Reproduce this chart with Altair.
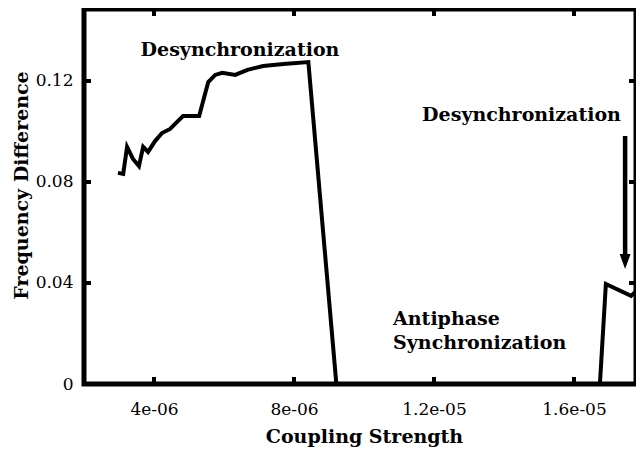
import altair as alt
import pandas as pd

# Curve
coupling = [2.97e-6, 3.12e-6, 3.23e-6, 3.40e-6, 3.57e-6, 3.69e-6, 3.83e-6, 4.03e-6,
            4.23e-6, 4.46e-6, 4.66e-6, 4.83e-6, 5.09e-6, 5.29e-6, 5.55e-6, 5.75e-6,
            5.95e-6, 6.32e-6, 6.67e-6, 7.12e-6, 7.70e-6, 8.41e-6, 9.21e-6, 1.674e-5,
            1.691e-5, 1.763e-5, 1.80e-5]
freq_diff = [0.0836, 0.0832, 0.0939, 0.0891, 0.0863, 0.0939, 0.0919, 0.0962,
             0.0994, 0.1010, 0.1038, 0.1061, 0.1061, 0.1061, 0.1196, 0.1224,
             0.1232, 0.1224, 0.1244, 0.1259, 0.1267, 0.1275, 0.0, 0.0,
             0.0396, 0.0349, 0.0398]

x_ticks = [4e-6, 8e-6, 1.2e-5, 1.6e-5]
y_ticks = [0, 0.04, 0.08, 0.12]

ann_text = ["Desynchronization", "Desynchronization", "Antiphase", "Synchronization"]
ann_x = [6.457e-6, 1.45e-5, 1.083e-5, 1.083e-5]
ann_y = [0.1300, 0.1042, 0.02337, 0.01386]
ann_align = ["center", "center", "left", "left"]

arrow_x = [1.746e-5]
arrow_top = [0.0982]
arrow_tip = [0.0485]

W, H = 552, 375
XDOM = [2e-6, 1.7771e-5]
YDOM = [0, 0.1485]

curve = pd.DataFrame({"x": coupling, "y": freq_diff})
ann = pd.DataFrame({"t": ann_text, "x": ann_x, "y": ann_y, "a": ann_align})
xt = pd.DataFrame({"v": x_ticks})
yt = pd.DataFrame({"v": y_ticks})
arr = pd.DataFrame({"x": arrow_x, "y": arrow_top, "y2": arrow_tip})

xscale = alt.Scale(domain=XDOM, nice=False, zero=False)
yscale = alt.Scale(domain=YDOM, nice=False, zero=False)

xaxis = alt.Axis(values=x_ticks, ticks=False, domain=False, grid=False,
                 labelExpr="replace(format(datum.value, '~e'), 'e-', 'e-0')",
                 labelPadding=17, title="Coupling Strength",
                 titleX=280, titleY=58, titleBaseline="alphabetic", titleAlign="center")
yaxis = alt.Axis(values=y_ticks, ticks=False, domain=False, grid=False,
                 format=".2~f", labelPadding=11, title="Frequency Difference",
                 titleAngle=270, titleX=-57, titleY=176, titleBaseline="alphabetic",
                 titleAlign="center")

line = alt.Chart(curve).mark_line(color="black", strokeWidth=4, clip=True).encode(
    x=alt.X("x:Q", scale=xscale, axis=xaxis),
    y=alt.Y("y:Q", scale=yscale, axis=yaxis),
)

tb = alt.Chart(xt).mark_rule(color="black", strokeWidth=4).encode(
    x=alt.X("v:Q", scale=xscale), y=alt.value(H), y2=alt.value(H - 7))
tt = alt.Chart(xt).mark_rule(color="black", strokeWidth=4).encode(
    x=alt.X("v:Q", scale=xscale), y=alt.value(0), y2=alt.value(7))
tl = alt.Chart(yt).mark_rule(color="black", strokeWidth=4).encode(
    y=alt.Y("v:Q", scale=yscale), x=alt.value(0), x2=alt.value(7))
tr = alt.Chart(yt).mark_rule(color="black", strokeWidth=4).encode(
    y=alt.Y("v:Q", scale=yscale), x=alt.value(W), x2=alt.value(W - 7))

texts_c = alt.Chart(ann[ann.a == "center"]).mark_text(
    font="DejaVu Serif", fontWeight="bold", fontSize=19, color="black",
    align="center", baseline="alphabetic").encode(
    x=alt.X("x:Q", scale=xscale), y=alt.Y("y:Q", scale=yscale), text="t:N")
texts_l = alt.Chart(ann[ann.a == "left"]).mark_text(
    font="DejaVu Serif", fontWeight="bold", fontSize=19, color="black",
    align="left", baseline="alphabetic").encode(
    x=alt.X("x:Q", scale=xscale), y=alt.Y("y:Q", scale=yscale), text="t:N")

shaft = alt.Chart(arr).mark_rule(color="black", strokeWidth=4.5).encode(
    x=alt.X("x:Q", scale=xscale), y=alt.Y("y:Q", scale=yscale),
    y2=alt.Y2("y2:Q"))
head = alt.Chart(arr).mark_point(shape="M-0.73,-1L0.73,-1L0,1Z", size=225,
                                 filled=True, color="black", opacity=1).encode(
    x=alt.X("x:Q", scale=xscale), y=alt.Y("y2:Q", scale=yscale))

chart = alt.layer(line, tb, tt, tl, tr, texts_c, texts_l, shaft, head).properties(
    width=W, height=H,
    autosize=alt.AutoSizeParams(type="none"),
    padding={"left": 76, "top": 1, "right": 0, "bottom": 64},
).configure_view(stroke="black", strokeWidth=5).configure_axis(
    labelFont="DejaVu Serif", labelFontSize=17, labelColor="black",
    titleFont="DejaVu Serif", titleFontWeight="bold", titleFontSize=19,
    titleColor="black")

chart.save("out.html", embed_options={"renderer": "svg", "actions": False})
